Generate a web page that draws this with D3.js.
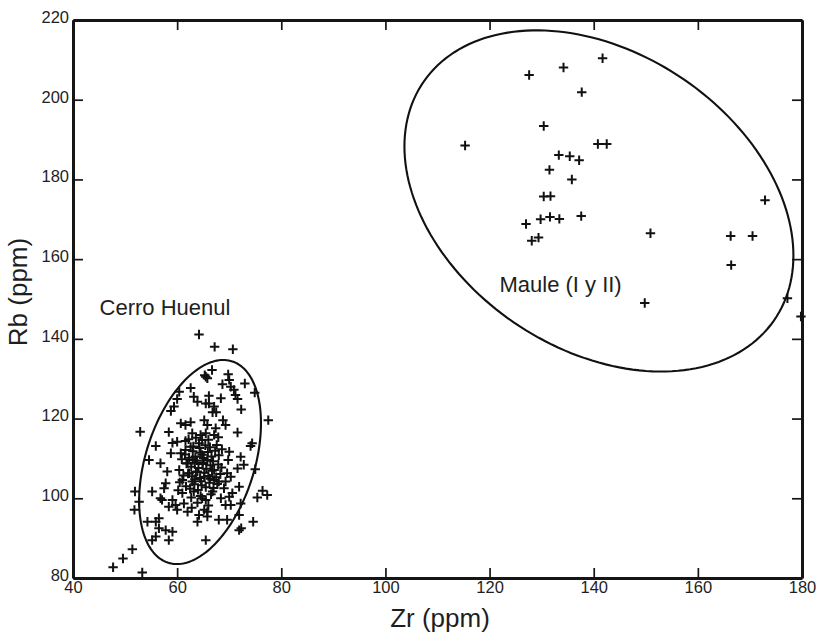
<!DOCTYPE html>
<html>
<head>
<meta charset="utf-8">
<script src="https://cdn.jsdelivr.net/npm/d3@7"></script>
<style>
  body { margin: 0; background: #fff; }
  svg { display: block; font-family: "Liberation Sans", Arial, sans-serif; }
</style>
</head>
<body>
<div id="chart"></div>
<script>
// ejes
const xDomain = [40, 180];
const yDomain = [80, 220];
const xTicks = [40, 60, 80, 100, 120, 140, 160, 180];
const yTicks = [80, 100, 120, 140, 160, 180, 200, 220];

// Maule (I y II): [Zr, Rb]
const maulePoints = [
  [141.7, 210.4], [134.2, 208.1], [127.6, 206.2], [137.7, 201.9], [130.4, 193.4],
  [115.3, 188.5], [140.8, 188.9], [142.5, 188.9], [133.3, 186.1], [135.4, 185.8],
  [137.2, 184.8], [131.5, 182.4], [135.8, 180.0], [130.4, 175.7], [131.7, 175.8],
  [172.9, 174.8], [127.0, 168.8], [129.8, 170.0], [131.6, 170.6], [133.4, 170.1],
  [137.6, 170.8], [128.1, 164.6], [129.4, 165.4], [150.9, 166.5], [166.3, 165.8],
  [170.5, 165.8], [166.4, 158.5], [149.8, 149.0], [177.2, 150.2], [179.8, 145.6]
];

// Cerro Huenul: [Zr, Rb]
const huenulPoints = [
  // fuera de la elipse
  [64.2, 141.1], [67.2, 138.0], [70.7, 137.4], [77.5, 119.6], [52.9, 116.7],
  [47.7, 82.7], [49.6, 84.9], [51.4, 87.2], [53.3, 81.4], [51.9, 101.7],
  [52.7, 99.1], [51.8, 97.1], [76.4, 101.9], [77.3, 100.8], [75.4, 100.2],
  [74.6, 94.1], [71.9, 92.0], [72.3, 92.5], [74.1, 113.1], [75.0, 107.3],
  [71.6, 116.5], [72.3, 122.3], [74.9, 126.5], [73.0, 128.8],
  // parte alta
  [65.3, 130.9], [65.8, 130.1], [62.6, 127.7], [60.4, 126.7], [63.2, 125.5],
  [63.9, 124.2], [60.0, 124.9], [59.4, 123.0], [58.8, 121.9], [65.5, 123.8],
  [60.7, 118.8], [62.6, 119.1], [61.6, 118.4], [58.4, 116.6], [62.9, 116.3],
  [64.5, 115.9], [60.0, 114.2], [61.6, 114.4], [64.8, 114.6],
  [66.7, 132.2], [65.5, 130.5], [69.8, 131.1], [70.0, 129.7], [68.7, 128.6],
  [70.3, 128.0], [70.9, 127.2], [71.2, 125.9], [71.6, 124.9], [66.1, 125.7],
  [68.4, 125.1], [66.1, 123.8], [67.1, 123.0], [66.8, 121.6], [67.5, 121.6],
  [65.2, 119.6], [65.8, 118.4], [68.8, 119.6], [69.3, 118.4], [67.4, 117.6],
  [65.5, 116.3], [67.1, 115.9], [74.4, 113.8],
  // parte izquierda y baja
  [55.9, 113.1], [59.1, 113.9], [58.8, 111.3], [54.6, 109.6], [56.8, 108.8],
  [58.1, 106.7], [60.7, 111.3], [61.6, 112.1], [62.6, 112.9], [64.2, 113.8],
  [62.0, 108.8], [60.4, 107.1], [63.5, 110.4], [64.8, 110.9], [65.8, 109.6],
  [62.3, 106.3], [63.9, 106.7], [65.2, 105.4], [61.0, 104.6], [62.9, 104.2],
  [57.8, 103.8], [57.5, 102.5], [55.2, 101.7], [56.8, 100.0], [57.1, 99.6],
  [59.1, 99.6], [59.7, 98.3], [58.4, 97.9], [60.0, 97.1], [61.3, 98.7],
  [62.0, 96.6], [64.2, 95.8], [63.9, 94.1], [65.8, 95.4], [63.2, 101.7],
  [64.8, 100.0], [56.5, 95.0], [55.9, 94.1], [54.3, 94.1], [56.5, 92.5],
  [57.8, 92.0], [55.9, 90.4], [55.2, 89.5], [59.1, 91.6], [58.4, 89.5],
  [65.5, 89.5],
  // parte derecha
  [70.0, 111.7], [72.2, 110.4], [72.8, 108.4], [71.6, 107.5], [69.8, 109.6],
  [69.6, 106.3], [70.3, 105.4], [67.1, 104.6], [68.0, 104.2], [69.3, 104.2],
  [71.9, 102.9], [69.0, 102.5], [70.6, 101.3], [70.0, 100.4], [68.4, 100.0],
  [69.3, 98.3], [70.3, 98.3], [66.8, 101.7], [65.5, 99.6], [65.2, 97.1],
  [65.8, 96.6], [72.2, 98.7], [71.9, 95.8], [68.0, 94.6], [69.6, 94.6],
  // nucleo denso
  [61.5, 111.0], [62.3, 110.2], [63.0, 111.8], [63.8, 109.5], [64.5, 111.4],
  [65.1, 110.1], [65.9, 111.6], [66.6, 110.5], [67.3, 111.9], [68.0, 110.8],
  [61.8, 108.7], [62.7, 107.9], [63.4, 108.9], [64.1, 107.6], [64.9, 108.6],
  [65.6, 107.4], [66.4, 108.3], [67.1, 107.1], [67.9, 108.5], [68.5, 107.7],
  [62.1, 106.2], [62.9, 105.5], [63.6, 106.6], [64.4, 105.1], [65.2, 106.4],
  [66.0, 105.6], [66.7, 106.9], [67.5, 105.3], [68.3, 106.1], [60.9, 109.8],
  [61.2, 105.7], [60.5, 104.0], [61.7, 103.0], [62.5, 102.4], [63.3, 103.5],
  [64.0, 102.1], [64.7, 103.3], [65.5, 102.8], [66.2, 103.9], [67.0, 102.6],
  [67.7, 103.6], [63.1, 113.0], [64.3, 112.6], [65.4, 113.3], [66.3, 112.8],
  [67.6, 113.4], [68.6, 112.3], [62.2, 114.8], [63.6, 115.2], [66.0, 114.7],
  [67.9, 115.3], [66.5, 101.0], [64.5, 100.6], [62.7, 100.2], [61.0, 101.3],
  [60.2, 102.0], [63.9, 98.9], [66.0, 98.2], [62.8, 97.6], [64.9, 109.0],
  [63.0, 109.6], [66.9, 109.3], [64.6, 104.3], [66.3, 104.9], [63.4, 104.8]
];

// elipses: centro (Zr, Rb), radios, correlacion
const ellipseNames = ['Cerro Huenul', 'Maule (I y II)'];
const ellipseCenters = [[64.4, 109.1], [141.0, 174.6]];
const ellipseRadii = [[11.7, 25.6], [37.35, 42.8]];
const ellipseRho = [0.38, -0.32];

// etiquetas de grupo (posicion en unidades de datos)
const groupLabels = ['Cerro Huenul', 'Maule (I y II)'];
const groupLabelPos = [[45.1, 146.0], [121.9, 151.8]];

const width = 819, height = 634;
const margin = { top: 20, right: 17, bottom: 56, left: 73 };

const svg = d3.select('#chart').append('svg')
  .attr('width', width)
  .attr('height', height);

const x = d3.scaleLinear().domain(xDomain).range([margin.left, width - margin.right]);
const y = d3.scaleLinear().domain(yDomain).range([height - margin.bottom, margin.top]);

const axisColor = '#151515';
const textColor = '#1e1e1e';

// ejes con marcas hacia dentro
const gBottom = svg.append('g')
  .attr('transform', `translate(0,${y(yDomain[0])})`)
  .call(d3.axisBottom(x).tickValues(xTicks).tickSize(-10).tickSizeOuter(0).tickPadding(3));
const gLeft = svg.append('g')
  .attr('transform', `translate(${x(xDomain[0])},0)`)
  .call(d3.axisLeft(y).tickValues(yTicks).tickSize(-10).tickSizeOuter(0).tickPadding(4));
const gTop = svg.append('g')
  .attr('transform', `translate(0,${y(yDomain[1])})`)
  .call(d3.axisTop(x).tickValues(xTicks).tickSize(-10).tickSizeOuter(0).tickFormat(''));
const gRight = svg.append('g')
  .attr('transform', `translate(${x(xDomain[1])},0)`)
  .call(d3.axisRight(y).tickValues(yTicks).tickSize(-10).tickSizeOuter(0).tickFormat(''));

[gBottom, gLeft, gTop, gRight].forEach(g => {
  g.select('.domain').attr('stroke', axisColor).attr('stroke-width', 3);
  g.selectAll('.tick line').attr('stroke', axisColor).attr('stroke-width', 1.7);
  g.selectAll('.tick text').attr('fill', textColor).style('font-size', '16.5px');
});
gLeft.selectAll('.tick text').attr('dy', '0.14em');

// elipses
const line = d3.line().x(d => x(d[0])).y(d => y(d[1])).curve(d3.curveLinearClosed);
const angles = d3.range(0, 2 * Math.PI, Math.PI / 90);
ellipseNames.forEach((name, i) => {
  const [cx, cy] = ellipseCenters[i];
  const [rx, ry] = ellipseRadii[i];
  const rho = ellipseRho[i];
  const pts = angles.map(t => [
    cx + rx * Math.cos(t),
    cy + ry * (rho * Math.cos(t) + Math.sqrt(1 - rho * rho) * Math.sin(t))
  ]);
  svg.append('path')
    .attr('d', line(pts))
    .attr('fill', 'none')
    .attr('stroke', '#111')
    .attr('stroke-width', 2.1);
});

// cruces
const cross = 'M-4.7,0H4.7M0,-4.7V4.7';
[huenulPoints, maulePoints].forEach(points => {
  svg.append('g').selectAll('path')
    .data(points)
    .enter().append('path')
    .attr('d', cross)
    .attr('transform', d => `translate(${x(d[0])},${y(d[1])})`)
    .attr('fill', 'none')
    .attr('stroke', '#111')
    .attr('stroke-width', 2);
});

// etiquetas de grupo
svg.append('g').selectAll('text')
  .data(groupLabels)
  .enter().append('text')
  .attr('x', (d, i) => x(groupLabelPos[i][0]))
  .attr('y', (d, i) => y(groupLabelPos[i][1]))
  .attr('fill', textColor)
  .style('font-size', '22px')
  .text(d => d);

// titulos de ejes
svg.append('text')
  .attr('x', 440)
  .attr('y', 627)
  .attr('text-anchor', 'middle')
  .attr('fill', textColor)
  .style('font-size', '26px')
  .text('Zr (ppm)');

svg.append('text')
  .attr('transform', 'translate(27,292) rotate(-90)')
  .attr('text-anchor', 'middle')
  .attr('fill', textColor)
  .style('font-size', '26px')
  .text('Rb (ppm)');
</script>
</body>
</html>
